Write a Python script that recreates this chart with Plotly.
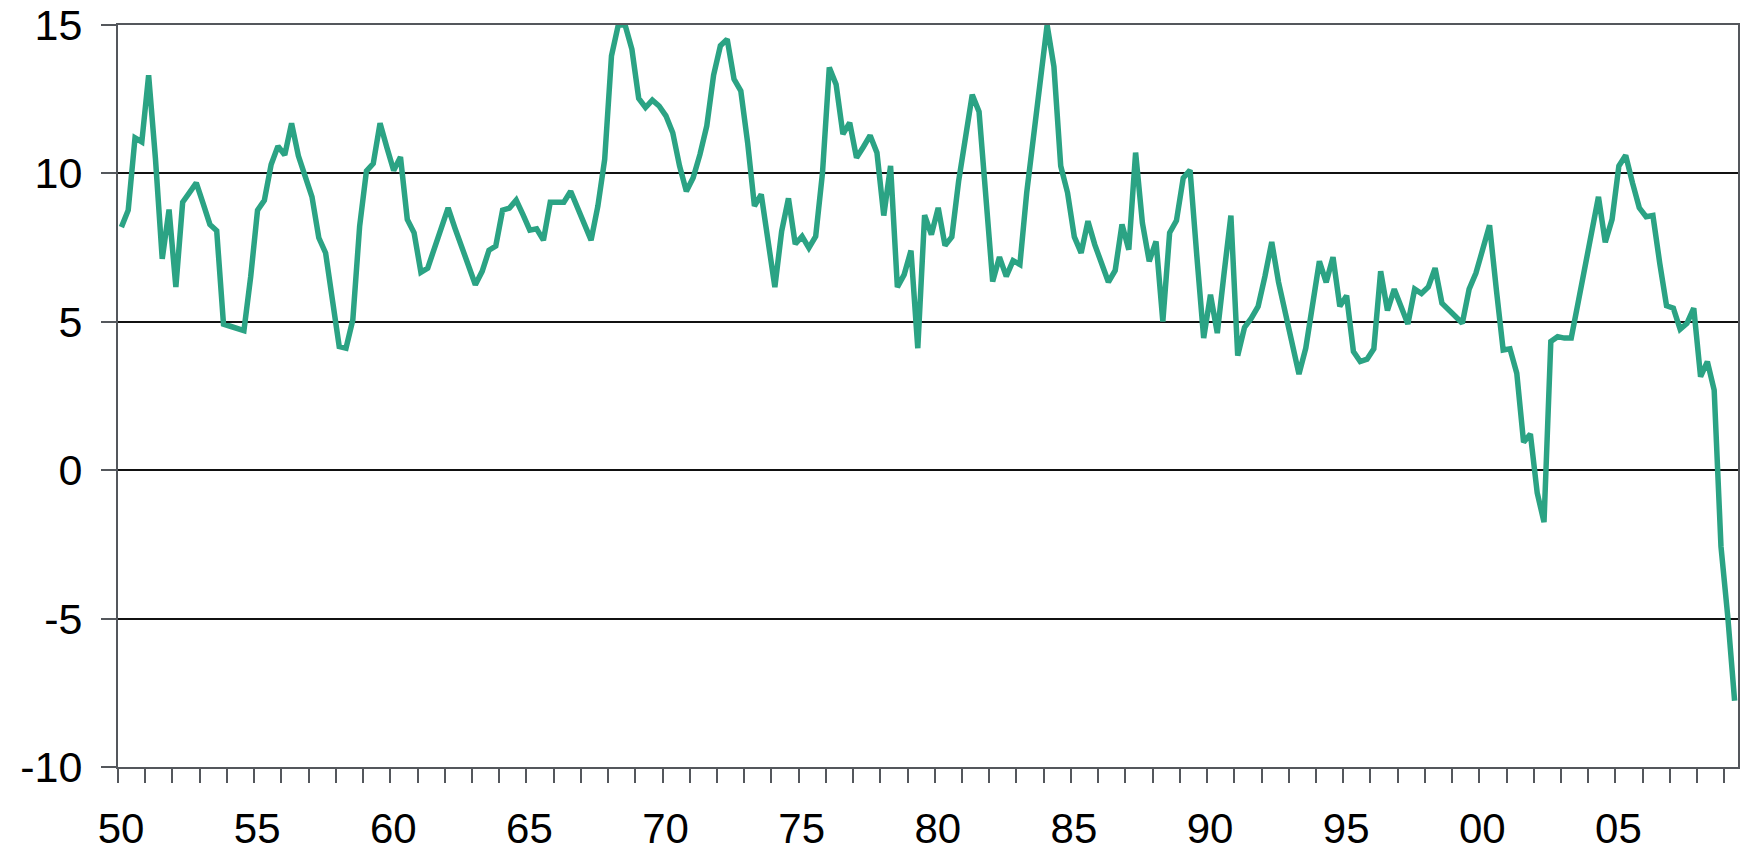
import plotly.graph_objects as go

start_year = 1950
quarters_per_year = 4

# Quarterly values, 1950Q1 .. 2009Q2
values = [
    8.19, 8.76, 11.2, 11.06, 13.31, 10.5, 7.12, 8.78, 6.17, 9.03,
    9.35, 9.68, 8.99, 8.28, 8.07, 4.92, 4.85, 4.76, 4.70, 6.53,
    8.76, 9.09, 10.3, 10.92, 10.62, 11.69, 10.59, 9.9, 9.21, 7.83,
    7.32, 5.74, 4.17, 4.11, 5.07, 8.22, 10.08, 10.33, 11.69, 10.87,
    10.1, 10.55, 8.45, 8.0, 6.67, 6.81, 7.49, 8.16, 8.84, 8.16,
    7.49, 6.81, 6.25, 6.7, 7.41, 7.55, 8.76, 8.83, 9.1, 8.61,
    8.09, 8.13, 7.75, 9.03, 9.03, 9.03, 9.4, 8.84, 8.31, 7.75,
    8.9, 10.47, 13.96, 15.0, 15.0, 14.18, 12.53, 12.22, 12.47, 12.27,
    11.94, 11.37, 10.25, 9.4, 9.85, 10.64, 11.6, 13.31, 14.3, 14.52,
    13.18, 12.78, 11.04, 8.9, 9.29, 7.77, 6.17, 8.05, 9.16, 7.62,
    7.88, 7.49, 7.88, 10.02, 13.57, 13.0, 11.32, 11.71, 10.53, 10.89,
    11.28, 10.7, 8.58, 10.25, 6.17, 6.59, 7.4, 4.11, 8.59, 7.94,
    8.84, 7.57, 7.86, 9.74, 11.09, 12.65, 12.08, 9.12, 6.36, 7.18,
    6.53, 7.06, 6.93, 9.35, 11.15, 12.95, 15.0, 13.6, 10.25, 9.35,
    7.86, 7.32, 8.39, 7.6, 6.93, 6.34, 6.73, 8.28, 7.43, 10.7,
    8.33, 7.04, 7.71, 5.01, 8.0, 8.41, 9.85, 10.11, 7.2, 4.45,
    5.91, 4.62, 6.64, 8.58, 3.86, 4.81, 5.12, 5.52, 6.53, 7.69,
    6.33, 5.33, 4.17, 3.24, 4.11, 5.69, 7.04, 6.33, 7.18, 5.52,
    5.88, 4.0, 3.66, 3.74, 4.09, 6.7, 5.38, 6.1, 5.52, 4.93,
    6.1, 5.95, 6.17, 6.81, 5.63, 5.43, 5.18, 4.95, 6.1, 6.64,
    7.38, 8.25, 6.08, 4.05, 4.09, 3.27, 0.94, 1.22, -0.76, -1.75,
    4.34, 4.5, 4.45, 4.45, 5.63, 6.76, 8.11, 9.21, 7.68, 8.45,
    10.25, 10.61, 9.68, 8.84, 8.54, 8.58, 6.98, 5.54, 5.46, 4.75,
    4.95, 5.46, 3.15, 3.66, 2.7, -2.57, -4.94, -7.77,
]

tick_years = list(range(1950, 2010))
label_years = list(range(1950, 2010, 5))
tick_labels = ["50", "55", "60", "65", "70", "75", "80", "85", "90", "95", "00", "05"]
y_ticks = [-10, -5, 0, 5, 10, 15]
y_tick_labels = ["-10", "-5", "0", "5", "10", "15"]

x = [start_year + (i + 0.5) / quarters_per_year for i in range(len(values))]
x_range = [start_year, start_year + (len(values)) / quarters_per_year]

ticktext = [tick_labels[label_years.index(yr)] if yr in label_years else "" for yr in tick_years]

axis_col = "#54575c"
font = dict(family="Liberation Sans, Arial, sans-serif", size=43, color="#000000")
xfont = dict(family="Liberation Sans, Arial, sans-serif", size=42, color="#000000")

fig = go.Figure()
fig.add_trace(go.Scatter(
    x=x, y=values, mode="lines",
    line=dict(color="#2BA384", width=5.5),
    hoverinfo="skip", showlegend=False,
))

fig.update_layout(
    width=1744, height=854,
    margin=dict(l=118, r=6, t=25, b=87),
    plot_bgcolor="white", paper_bgcolor="white",
    font=font,
    showlegend=False,
    xaxis=dict(
        range=x_range, tickmode="array", tickvals=tick_years, ticktext=ticktext,
        ticks="outside", ticklen=14, tickwidth=2, tickcolor=axis_col,
        showline=True, linecolor=axis_col, linewidth=2, mirror=True,
        showgrid=False, zeroline=False, tickfont=xfont, ticklabelstandoff=10,
        ticklabelshift=3, automargin=False,
    ),
    xaxis2=dict(
        range=x_range, overlaying="x", anchor="y", side="bottom",
        tickmode="array", tickvals=tick_years,
        ticks="inside", ticklen=14, tickwidth=2, tickcolor=axis_col,
        showticklabels=False, showline=False, showgrid=False, zeroline=False,
        automargin=False,
    ),
    yaxis=dict(
        range=[-10, 15], tickmode="array", tickvals=y_ticks, ticktext=y_tick_labels,
        ticks="outside", ticklen=15, tickwidth=2, tickcolor=axis_col,
        showline=True, linecolor=axis_col, linewidth=2, mirror=True,
        showgrid=True, gridcolor="#111111", gridwidth=1.5,
        zeroline=False, tickfont=font, ticklabelstandoff=10,
        automargin=False,
    ),
)

fig.write_html(
    "out.html",
    config={"displayModeBar": False},
    post_script="document.body.style.margin='0';document.body.style.overflow='hidden';",
)
